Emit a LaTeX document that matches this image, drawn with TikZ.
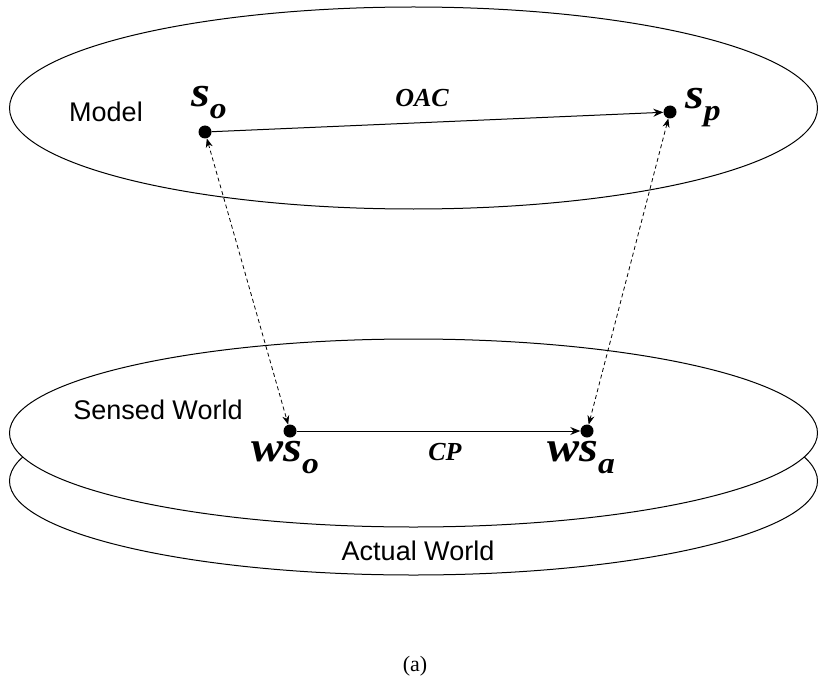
\documentclass[tikz,border=0pt]{standalone}
\usepackage{fontspec}
\setmainfont{Liberation Serif}
\newfontfamily\arialfont{Liberation Sans}
\usetikzlibrary{arrows.meta}
\tikzset{
  world/.style={draw=black, line width=1pt, fill=white},
  dotnode/.style={circle, fill=black, inner sep=0pt, minimum size=13pt},
  sanslabel/.style={font=\arialfont\fontsize{27}{30}\selectfont, inner sep=0pt, anchor=base},
  symlabel/.style={font=\bfseries\itshape\fontsize{43}{46}\selectfont, inner sep=0pt, anchor=base west},
  opname/.style={font=\bfseries\itshape\fontsize{26}{30}\selectfont, inner sep=0pt, anchor=base},
  solidarrow/.style={line width=1pt, -{Stealth[length=10pt,width=8pt]}, shorten >=0pt},
  dasharrow/.style={line width=0.8pt, dash pattern=on 4pt off 3pt, {Stealth[length=9pt,width=7pt]}-{Stealth[length=9pt,width=7pt]}}
}
\newcommand{\subsc}[1]{\raisebox{-12pt}{\fontsize{30}{30}\selectfont #1}}
\newcommand{\wide}[1]{\scalebox{1.12}[1]{#1}}
\begin{document}
\begin{tikzpicture}[x=1pt,y=-1pt]
\useasboundingbox (0,0) rectangle (818,679);
% ellipses
\draw[world] (413.5,108) ellipse [x radius=404, y radius=101];
\draw[world] (413.5,481) ellipse [x radius=404, y radius=94];
\draw[world] (413.5,433) ellipse [x radius=404, y radius=94];
% text labels
\node[sanslabel] (model) at (106,122) {Model};
\node[sanslabel] (sensed) at (158,419) {Sensed World};
\node[sanslabel] (actual) at (418,560) {Actual World};
% dots
\node[dotnode] (so) at (205,132) {};
\node[dotnode] (sp) at (670,112) {};
\node[dotnode] (wso) at (290,431) {};
\node[dotnode] (wsa) at (587,431) {};
% symbol labels
\node[symlabel] (solab) at (191,107) {\wide{s\subsc{o}}};
\node[symlabel] (splab) at (685,109) {\wide{s\subsc{p}}};
\node[symlabel] (wsolab) at (251,461) {\wide{ws\subsc{o}}};
\node[symlabel] (wsalab) at (547,461) {\wide{ws\subsc{a}}};
\node[opname] (oac) at (422,107) {OAC};
\node[opname] (cp) at (445,460) {CP};
% connectors
\draw[solidarrow] (so) -- (sp);
\draw[solidarrow] (wso) -- (wsa);
\draw[dasharrow] (so) -- (wso);
\draw[dasharrow] (sp) -- (wsa);
% caption
\node[font=\fontsize{22}{24}\selectfont, inner sep=0pt] (cap) at (415,666) {(a)};
\end{tikzpicture}
\end{document}
